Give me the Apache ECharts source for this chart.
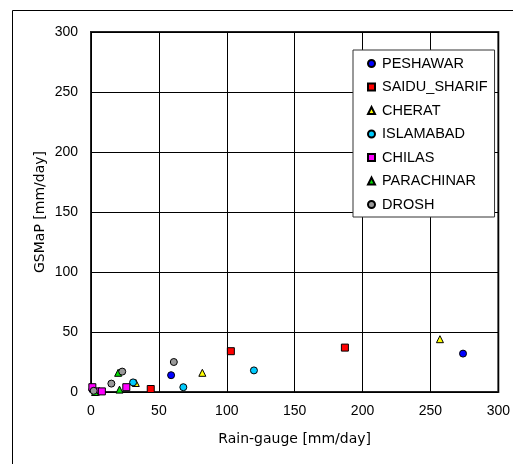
<!DOCTYPE html>
<html><head><meta charset="utf-8">
<script src="https://cdn.jsdelivr.net/npm/echarts@6/dist/echarts.min.js"></script>
<style>html,body{margin:0;padding:0;background:#fff}#c{width:513px;height:464px}</style>
</head><body><div id="c"></div>
<script>
const stations = ['PESHAWAR','SAIDU_SHARIF','CHERAT','ISLAMABAD','CHILAS','PARACHINAR','DROSH'];
const peshawar = [[1,2],[59,14],[274,32]];
const saiduSharif = [[44,2.5],[103,34],[187,37]];
const cherat = [[33,7.5],[82,16],[257,44]];
const islamabad = [[31,8],[68,4],[120,18]];
const chilas = [[1,4],[4,0.5],[8,0.5],[26,4]];
const parachinar = [[3,0],[20,16],[21,2]];
const drosh = [[2,1],[15,7],[23,17],[61,25]];
const xTicks = [0,50,100,150,200,250,300];
const yTicks = [0,50,100,150,200,250,300];

const seriesData = [peshawar, saiduSharif, cherat, islamabad, chilas, parachinar, drosh];
const symbols = ['circle','rect','triangle','circle','rect','triangle','circle'];
const colors = ['#0000ff','#ff0000','#ffff00','#00ccff','#ff00ff','#00e000','#999999'];

const chart = echarts.init(document.getElementById('c'));
chart.setOption({
  animation: false,
  backgroundColor: '#fff',
  graphic: [{type:'rect', shape:{x:12.5,y:10.5,width:700,height:700}, style:{fill:'none',stroke:'#000',lineWidth:1}, z:-1}],
  grid: {left:91, top:32, right:10, bottom:72, show:true, borderColor:'#222', borderWidth:2, backgroundColor:'transparent'},
  xAxis: {type:'value', min:xTicks[0], max:xTicks[xTicks.length-1], interval:50,
    name:'Rain-gauge [mm/day]', nameLocation:'middle', nameGap:40,
    nameTextStyle:{fontFamily:'DejaVu Sans', fontSize:14, color:'#000'},
    axisLine:{show:false}, axisTick:{show:false},
    axisLabel:{fontFamily:'Liberation Sans', fontSize:14, color:'#000', margin:12},
    splitLine:{show:true, lineStyle:{color:'#000', width:1}}},
  yAxis: {type:'value', min:yTicks[0], max:yTicks[yTicks.length-1], interval:50,
    name:'GSMaP [mm/day]', nameLocation:'middle', nameGap:44, nameMoveOverlap:false,
    nameTextStyle:{fontFamily:'DejaVu Sans', fontSize:14, color:'#000'},
    axisLine:{show:false}, axisTick:{show:false},
    axisLabel:{fontFamily:'Liberation Sans', fontSize:14, color:'#000', margin:13},
    splitLine:{show:true, lineStyle:{color:'#000', width:1}}},
  legend: {orient:'vertical', left:353, top:50, data:stations,
    padding:[6,7,5,14], itemGap:8.5, itemWidth:7, itemHeight:7,
    backgroundColor:'#fff', borderColor:'#333', borderWidth:1,
    textStyle:{fontFamily:'Liberation Sans', fontSize:14.5, color:'#000', padding:[0,0,0,2]}},
  series: stations.map((n,i)=>({
    name:n, type:'scatter', data:seriesData[i], symbol:symbols[i], symbolSize:7,
    itemStyle:{color:colors[i], borderColor:'#000', borderWidth:1, opacity:1}
  }))
});
</script></body></html>
